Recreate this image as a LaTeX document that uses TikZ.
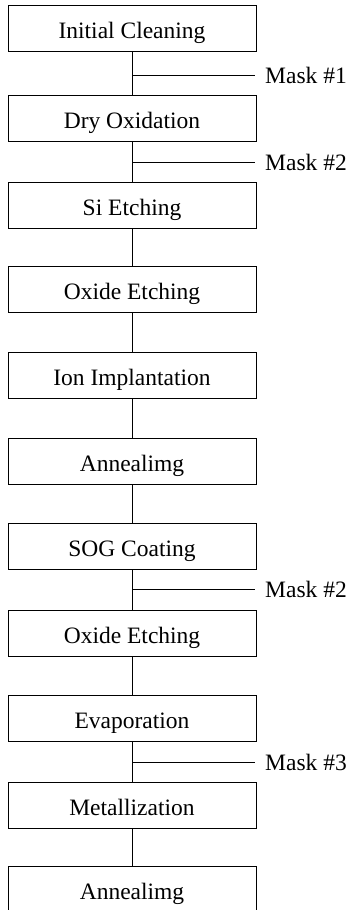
\documentclass[tikz,border=0pt]{standalone}
\usepackage{fontspec}
\setmainfont{Liberation Serif}
\begin{document}
\begin{tikzpicture}[
      x=1pt, y=-1pt,
      step_style/.style={draw, line width=0.9pt, minimum width=248pt, minimum height=46pt, inner sep=0pt, text height=20pt, text depth=0pt, font=\fontsize{23.5}{27}\selectfont},
      link_style/.style={draw, line width=0.9pt},
      mask_style/.style={anchor=west, inner sep=10pt, font=\fontsize{23.5}{27}\selectfont}
  ]

      \useasboundingbox (0,0) rectangle (355,910);
      \clip (0,0) rectangle (355,910);

      \node[step_style] (clean)  at (132,28)  {Initial Cleaning};
      \node[step_style] (dryox)  at (132,118) {Dry Oxidation};
      \node[step_style] (sietch) at (132,205) {Si Etching};
      \node[step_style] (oxetcha) at (132,289) {Oxide Etching};
      \node[step_style] (ionimp) at (132,375) {Ion Implantation};
      \node[step_style] (anneala) at (132,461) {Annealimg};
      \node[step_style] (sog)    at (132,546) {SOG Coating};
      \node[step_style] (oxetchb) at (132,633) {Oxide Etching};
      \node[step_style] (evap)   at (132,718) {Evaporation};
      \node[step_style] (metal)  at (132,805) {Metallization};
      \node[step_style] (annealb) at (132,889) {Annealimg};

      \draw[link_style] (clean) -- (dryox);
      \draw[link_style] (dryox) -- (sietch);
      \draw[link_style] (sietch) -- (oxetcha);
      \draw[link_style] (oxetcha) -- (ionimp);
      \draw[link_style] (ionimp) -- (anneala);
      \draw[link_style] (anneala) -- (sog);
      \draw[link_style] (sog) -- (oxetchb);
      \draw[link_style] (oxetchb) -- (evap);
      \draw[link_style] (evap) -- (metal);
      \draw[link_style] (metal) -- (annealb);

      % mask branches
      \coordinate (tapa) at (132,75);
      \coordinate (tapb) at (132,162);
      \coordinate (tapc) at (132,589);
      \coordinate (tapd) at (132,762);
      \node[mask_style] (maska) at (255,75)  {Mask \#1};
      \node[mask_style] (maskb) at (255,162) {Mask \#2};
      \node[mask_style] (maskc) at (255,589) {Mask \#2};
      \node[mask_style] (maskd) at (255,762) {Mask \#3};
      \draw[link_style] (tapa) -- (maska);
      \draw[link_style] (tapb) -- (maskb);
      \draw[link_style] (tapc) -- (maskc);
      \draw[link_style] (tapd) -- (maskd);
  \end{tikzpicture}
\end{document}
